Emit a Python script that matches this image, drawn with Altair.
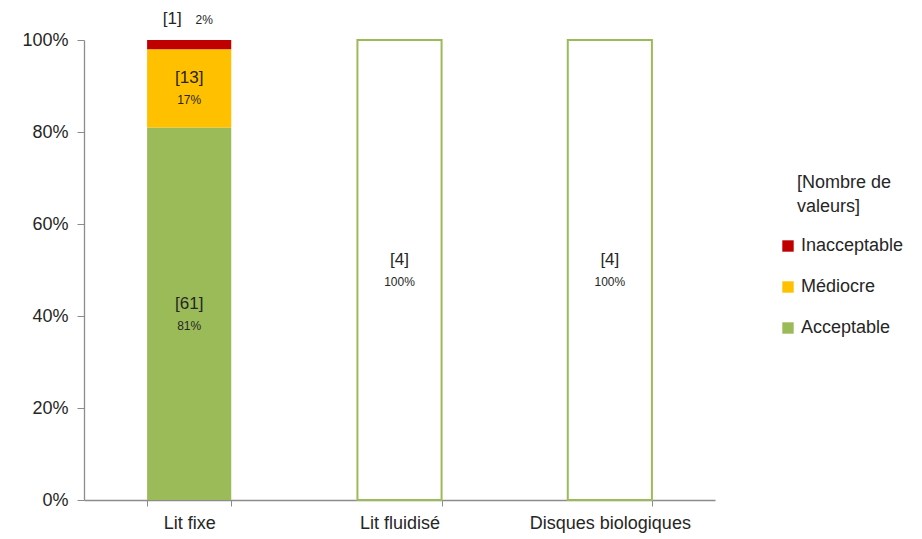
import altair as alt
import pandas as pd

# ---- data ----
categories = ["Lit fixe", "Lit fluidisé", "Disques biologiques"]
statuses = ["Acceptable", "Médiocre", "Inacceptable"]  # bottom -> top
counts = {
    "Lit fixe": [61, 13, 1],
    "Lit fluidisé": [4, 0, 0],
    "Disques biologiques": [4, 0, 0],
}
percents = {
    "Lit fixe": [81, 17, 2],
    "Lit fluidisé": [100, 0, 0],
    "Disques biologiques": [100, 0, 0],
}
filled_categories = ["Lit fixe"]  # the other bars are drawn as outlines only
legend_order = ["Inacceptable", "Médiocre", "Acceptable"]
colors = {"Acceptable": "#9BBB59", "Médiocre": "#FFC000", "Inacceptable": "#C00000"}
legend_title_lines = ["[Nombre de", "valeurs]"]

rows = []
for cat in categories:
    start = 0.0
    for st, c, p in zip(statuses, counts[cat], percents[cat]):
        if p <= 0:
            continue
        end = start + p / 100.0
        rows.append({
            "category": cat,
            "status": st,
            "y0": start,
            "y1": end,
            "mid": (start + end) / 2,
            "count_label": f"[{c}]",
            "pct_label": f"{p}%",
            "filled": cat in filled_categories,
            "inside": p >= 5,
        })
        start = end
df = pd.DataFrame(rows)

FONT = "Liberation Sans"
TXT = "#262626"

x_enc = alt.X(
    "category:N",
    sort=categories,
    scale=alt.Scale(paddingInner=0.6, paddingOuter=0.3),
    axis=alt.Axis(
        title=None, labelAngle=0, tickBand="extent", tickSize=6,
        labelPadding=8, labelFontSize=18, labelColor=TXT, labelFont=FONT,
        domainColor="#8C8C8C", tickColor="#8C8C8C", domainWidth=1.3,
    ),
)
y_scale = alt.Scale(domain=[0, 1], nice=False)

base = alt.Chart(df)

bars_filled = base.transform_filter("datum.filled").mark_bar().encode(
    x=x_enc,
    y=alt.Y(
        "y0:Q", scale=y_scale,
        axis=alt.Axis(
            title=None, values=[0, 0.2, 0.4, 0.6, 0.8, 1.0], format=".0%",
            grid=False, tickSize=7, labelPadding=9, labelFontSize=18,
            labelColor=TXT, labelFont=FONT, domainColor="#8C8C8C",
            tickColor="#8C8C8C", domainWidth=1.3,
        ),
    ),
    y2="y1:Q",
    color=alt.Color(
        "status:N",
        scale=alt.Scale(domain=legend_order, range=[colors[s] for s in legend_order]),
        legend=alt.Legend(
            title=None, orient="none", legendX=695, legendY=197,
            symbolType="square", symbolSize=130, symbolStrokeWidth=0,
            labelFontSize=18, labelFont=FONT, labelColor=TXT,
            rowPadding=23, labelOffset=4,
        ),
    ),
)

bars_empty = base.transform_filter("!datum.filled").mark_bar(
    fill="white", stroke="#9BBB59", strokeWidth=2
).encode(x=x_enc, y=alt.Y("y0:Q", scale=y_scale), y2="y1:Q")

inside = base.transform_filter("datum.inside")
cnt_in = inside.mark_text(dy=-10, fontSize=17, font=FONT, color=TXT, baseline="middle").encode(
    x=x_enc, y=alt.Y("mid:Q", scale=y_scale), text="count_label:N")
pct_in = inside.mark_text(dy=12, fontSize=12, font=FONT, color=TXT, baseline="middle").encode(
    x=x_enc, y=alt.Y("mid:Q", scale=y_scale), text="pct_label:N")

outside = base.transform_filter("!datum.inside")
cnt_out = outside.mark_text(dy=-21, dx=-17, fontSize=17, font=FONT, color=TXT, baseline="middle").encode(
    x=x_enc, y=alt.Y("y1:Q", scale=y_scale), text="count_label:N")
pct_out = outside.mark_text(dy=-20, dx=15, fontSize=12, font=FONT, color=TXT, baseline="middle").encode(
    x=x_enc, y=alt.Y("y1:Q", scale=y_scale), text="pct_label:N")

title_layers = []
for i, line in enumerate(legend_title_lines):
    title_layers.append(
        alt.Chart(df).transform_filter("datum.status == 'Acceptable' && datum.category == 'Lit fixe'")
        .mark_text(text=line, align="left", baseline="middle", fontSize=18, font=FONT, color=TXT)
        .encode(x=alt.value(713), y=alt.value(143 + 24 * i))
    )

chart = alt.layer(
    bars_filled, bars_empty, cnt_in, pct_in, cnt_out, pct_out, *title_layers
).properties(
    width=631, height=460, autosize="none",
    padding={"left": 76, "top": 32, "right": 199, "bottom": 34},
).configure_view(stroke="transparent")

chart.save("out.html", embed_options={"renderer": "svg", "actions": False})
